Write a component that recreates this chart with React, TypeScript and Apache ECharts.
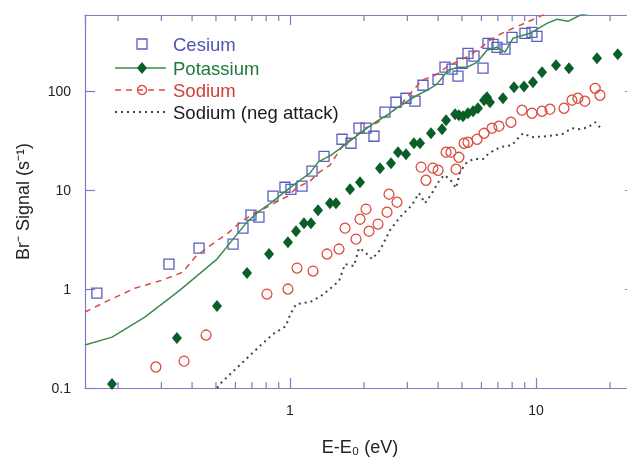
import React, { useEffect, useRef } from "react";
import * as echarts from "echarts";

const xMin = 0.1468;
const xMax = 25.26;
const yMin = 0.1;
const yMax = 590;

const minorTicks = [0.2, 0.3, 0.4, 0.5, 0.6, 0.7, 0.8, 0.9, 2, 3, 4, 5, 6, 7, 8, 9, 20];

const cesiumData = [
  [0.164, 0.911], [0.322, 1.79], [0.427, 2.6], [0.587, 2.85], [0.644, 4.13], [0.694, 5.59], [0.748, 5.34],
  [0.853, 8.7], [0.954, 10.7], [1.009, 10.2], [1.119, 11.0], [1.229, 15.6], [1.375, 22.0], [1.627, 32.7],
  [1.77, 29.8], [1.908, 42.3], [2.037, 42.3], [2.195, 35.1], [2.433, 61.4], [2.697, 77.4], [2.962, 85.0],
  [3.223, 79.3], [3.472, 115], [3.997, 132], [4.267, 175], [4.556, 167], [4.818, 142], [5.003, 192],
  [5.291, 242], [5.597, 226], [6.09, 171], [6.38, 305], [6.69, 298], [6.94, 278], [7.48, 266], [7.99, 351],
  [9.02, 385], [9.63, 394], [10.09, 359],
];

const potassiumData = [
  [0.189, 0.11], [0.347, 0.32], [0.505, 0.674], [0.669, 1.45], [0.822, 2.26], [0.981, 2.98], [1.058, 3.85],
  [1.14, 4.64], [1.217, 4.64], [1.3, 6.28], [1.454, 7.39], [1.538, 7.39], [1.754, 10.2], [1.926, 12.0],
  [2.322, 16.7], [2.574, 18.7], [2.748, 24.2], [2.962, 23.1], [3.19, 29.8], [3.378, 29.8], [3.743, 37.6],
  [4.15, 41.3], [4.31, 50.9], [4.69, 58.6], [4.86, 57.2], [5.05, 55.9], [5.29, 59.9], [5.55, 62.8],
  [5.81, 67.3], [6.15, 81.2], [6.32, 87.0], [6.5, 77.4], [7.34, 85.0], [8.14, 110], [8.94, 112],
  [9.72, 123], [10.58, 156], [12.06, 183], [13.62, 171], [17.7, 215], [21.5, 236],
];

const sodiumData = [
  [0.285, 0.163], [0.371, 0.187], [0.456, 0.343], [0.806, 0.89], [0.981, 1.0], [1.068, 1.63], [1.24, 1.52],
  [1.414, 2.26], [1.582, 2.54], [1.674, 4.13], [1.855, 3.2], [1.926, 5.09], [2.037, 6.43], [2.095, 3.85],
  [2.279, 4.54], [2.48, 5.99], [2.526, 9.11], [2.723, 7.56], [3.41, 17.1], [3.57, 12.6], [3.81, 16.7],
  [4.0, 15.9], [4.31, 24.2], [4.51, 24.2], [4.73, 16.3], [4.86, 21.5], [5.1, 29.8], [5.29, 30.5],
  [5.76, 32.7], [6.15, 37.6], [6.62, 42.3], [7.07, 44.3], [7.91, 48.6], [8.77, 64.3], [9.63, 59.9],
  [10.58, 62.8], [11.4, 65.8], [13.0, 67.3], [14.0, 81.2], [14.8, 85.0], [15.8, 79.3], [17.4, 107], [18.2, 91.1],
];

const sodiumNegAttack = [
  [0.505, 0.1], [0.529, 0.115], [0.626, 0.171], [0.755, 0.266], [0.853, 0.351], [0.963, 0.423], [1.0, 0.546],
  [1.058, 0.705], [1.206, 0.739], [1.337, 0.85], [1.481, 1.047], [1.582, 1.205], [1.674, 1.79], [1.82, 1.71],
  [1.908, 2.6], [2.0, 2.42], [2.154, 2.01], [2.322, 2.48], [2.55, 3.94], [2.8, 5.34], [3.13, 7.06],
  [3.345, 9.33], [3.54, 7.39], [3.78, 9.33], [4.0, 12.0], [4.23, 14.2], [4.47, 12.9], [4.73, 10.5],
  [4.91, 15.2], [5.19, 18.7], [5.55, 20.6], [6.09, 20.6], [6.44, 23.6], [7.14, 27.2], [7.99, 28.5],
  [8.45, 33.5], [8.86, 37.6], [9.63, 34.3], [11.08, 35.1], [12.76, 36.8], [14.0, 42.3], [15.1, 41.3],
  [16.3, 43.3], [17.4, 48.6], [18.2, 43.3],
];

const potassiumFit = [
  [0.1468, 0.272], [0.189, 0.327], [0.257, 0.521], [0.357, 0.977], [0.505, 2.01], [0.587, 3.2], [0.669, 4.75],
  [0.741, 5.99], [0.845, 7.56], [0.937, 9.33], [1.068, 12.0], [1.206, 14.85], [1.3, 19.2], [1.468, 22.6],
  [1.627, 27.2], [1.837, 34.3], [2.056, 42.3], [2.258, 49.8], [2.48, 57.2], [2.672, 65.8], [2.962, 77.4],
  [3.283, 91.1], [3.606, 102], [3.96, 118], [4.39, 163], [4.82, 175], [5.24, 175], [5.76, 196], [6.32, 260],
  [6.94, 278], [7.48, 248], [8.06, 343], [9.45, 385], [11.08, 486], [12.17, 534], [13.49, 509], [15.1, 586],
  [22, 740],
];

const sodiumFit = [
  [0.1468, 0.586], [0.177, 0.739], [0.234, 1.02], [0.302, 1.23], [0.367, 1.485], [0.411, 2.1], [0.464, 2.66],
  [0.56, 3.68], [0.644, 4.98], [0.734, 5.99], [0.806, 6.73], [0.911, 7.94], [0.981, 8.7], [1.068, 10.7],
  [1.206, 12.3], [1.3, 14.85], [1.454, 17.9], [1.642, 28.5], [1.837, 35.1], [2.018, 42.3], [2.279, 48.6],
  [2.55, 59.9], [2.853, 75.6], [3.162, 102], [3.44, 129], [3.885, 145], [4.39, 179], [4.91, 206], [5.39, 231],
  [5.92, 272], [6.5, 327], [7.14, 377], [8.06, 433], [9.19, 498], [10.38, 572], [11.4, 628],
];

const legendLabels = ["Cesium", "Potassium", "Sodium", "Sodium (neg attack)"];

const FONT = '"Liberation Sans", Arial, sans-serif';
const axisColor = "#7a7ec8";
const cesiumColor = "#5a5fc0";
const potassiumColor = "#0a5e28";
const potassiumLine = "#3a8c52";
const sodiumColor = "#dc4b3e";
const negColor = "#444444";

export default function App() {
  const ref = useRef<HTMLDivElement>(null);
  useEffect(() => {
    if (!ref.current) return;
    const chart = echarts.init(ref.current, null, { renderer: "svg" });
    const baseX = {
      type: "log",
      min: xMin,
      max: xMax,
      axisLine: { lineStyle: { color: axisColor, width: 1.2 } },
      axisTick: { inside: true, length: 10, lineStyle: { color: axisColor, width: 1.2 } },
      splitLine: { show: false },
    };
    const baseY = {
      type: "log",
      min: yMin,
      max: yMax,
      axisLine: { lineStyle: { color: axisColor, width: 1.2 } },
      axisTick: { inside: true, length: 10, lineStyle: { color: axisColor, width: 1.2 } },
      splitLine: { show: false },
    };
    const lx = 115, lx2 = 166, lc = 142, tx = 173;
    const ly = [44, 68, 90, 112];
    const lf = 18.5;
    chart.setOption({
      animation: false,
      textStyle: { fontFamily: FONT },
      grid: { left: 85, top: 15, width: 550, height: 373, outerBoundsMode: "none", containLabel: false },
      xAxis: [
        {
          ...baseX,
          position: "bottom",
          axisLabel: { margin: 15, color: "#222", fontSize: 14, fontFamily: FONT, showMinLabel: false, showMaxLabel: false },
          name: "E-E\u2080 (eV)",
          nameLocation: "middle",
          nameGap: 50,
          nameTextStyle: { fontSize: 18, color: "#222", fontFamily: FONT },
        },
        { ...baseX, position: "top", axisLabel: { show: false } },
      ],
      yAxis: [
        {
          ...baseY,
          position: "left",
          axisLabel: { margin: 14, color: "#222", fontSize: 14, fontFamily: FONT, showMaxLabel: false },
          name: "Br\u207B Signal (s\u207B\u00B9)",
          nameLocation: "middle",
          nameGap: 53,
          nameTextStyle: { fontSize: 18, color: "#222", fontFamily: FONT },
        },
        { ...baseY, position: "right", axisLabel: { show: false } },
      ],
      series: [
        {
          type: "custom",
          silent: true,
          clip: false,
          data: minorTicks.map((v) => [v, yMin]),
          encode: { x: 0, y: 1 },
          renderItem: (params: any, api: any) => {
            const v = api.value(0);
            const b = api.coord([v, yMin]);
            const t = api.coord([v, yMax]);
            const st = { stroke: axisColor, lineWidth: 1.2 };
            return {
              type: "group",
              children: [
                { type: "line", shape: { x1: b[0], y1: b[1], x2: b[0], y2: b[1] - 6 }, style: st },
                { type: "line", shape: { x1: t[0], y1: t[1], x2: t[0], y2: t[1] + 6 }, style: st },
              ],
            };
          },
        },
        {
          name: "Sodium (neg attack)",
          type: "line",
          data: sodiumNegAttack,
          symbol: "none",
          lineStyle: { color: negColor, width: 2, type: [2, 4] },
        },
        {
          name: "Sodium fit",
          type: "line",
          data: sodiumFit,
          symbol: "none",
          lineStyle: { color: sodiumColor, width: 1.5, type: [6, 5] },
        },
        {
          name: "Potassium fit",
          type: "line",
          data: potassiumFit,
          symbol: "none",
          lineStyle: { color: potassiumLine, width: 1.5 },
        },
        {
          name: "Cesium",
          type: "scatter",
          data: cesiumData,
          symbol: "rect",
          symbolSize: 10,
          itemStyle: { color: "transparent", borderColor: cesiumColor, borderWidth: 1.3, opacity: 1 },
        },
        {
          name: "Potassium",
          type: "scatter",
          data: potassiumData,
          symbol: "diamond",
          symbolSize: [10, 12],
          itemStyle: { color: potassiumColor, opacity: 1 },
        },
        {
          name: "Sodium",
          type: "scatter",
          data: sodiumData,
          symbol: "circle",
          symbolSize: 10,
          itemStyle: { color: "transparent", borderColor: sodiumColor, borderWidth: 1.3, opacity: 1 },
        },
      ],
      graphic: [
        { type: "rect", shape: { x: lc - 5, y: ly[0] - 5, width: 10, height: 10 }, style: { fill: "none", stroke: cesiumColor, lineWidth: 1.3 } },
        { type: "text", x: tx, y: ly[0], style: { text: legendLabels[0], fill: "#4f55b3", fontSize: lf, fontFamily: FONT, verticalAlign: "middle" } },
        { type: "line", shape: { x1: lx, y1: ly[1], x2: lx2, y2: ly[1] }, style: { stroke: potassiumLine, lineWidth: 1.5 } },
        { type: "polygon", shape: { points: [[lc, ly[1] - 6], [lc + 5, ly[1]], [lc, ly[1] + 6], [lc - 5, ly[1]]] }, style: { fill: potassiumColor } },
        { type: "text", x: tx, y: ly[1], style: { text: legendLabels[1], fill: "#1c7a3c", fontSize: lf, fontFamily: FONT, verticalAlign: "middle" } },
        { type: "line", shape: { x1: lx, y1: ly[2], x2: lx2, y2: ly[2] }, style: { stroke: sodiumColor, lineWidth: 1.5, lineDash: [6, 5] } },
        { type: "circle", shape: { cx: lc, cy: ly[2], r: 4.5 }, style: { fill: "none", stroke: sodiumColor, lineWidth: 1.3 } },
        { type: "text", x: tx, y: ly[2], style: { text: legendLabels[2], fill: "#d23c32", fontSize: lf, fontFamily: FONT, verticalAlign: "middle" } },
        { type: "line", shape: { x1: lx, y1: ly[3], x2: lx2, y2: ly[3] }, style: { stroke: negColor, lineWidth: 2, lineDash: [2, 4] } },
        { type: "text", x: tx, y: ly[3], style: { text: legendLabels[3], fill: "#1a1a1a", fontSize: lf, fontFamily: FONT, verticalAlign: "middle" } },
      ],
    });
    return () => chart.dispose();
  }, []);
  return <div ref={ref} style={{ position: "fixed", left: 0, top: 0, width: 627, height: 458 }} />;
}
